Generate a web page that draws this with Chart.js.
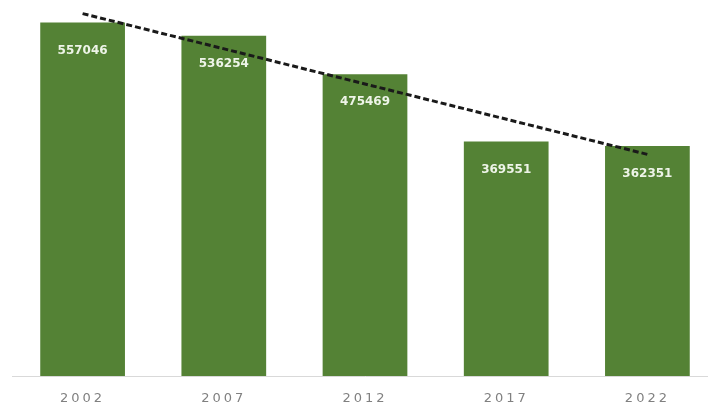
<!DOCTYPE html>
<html>
<head>
<meta charset="utf-8">
<script src="https://cdn.jsdelivr.net/npm/chart.js@4"></script>
<style>
  html, body { margin: 0; padding: 0; background: #fff; overflow: hidden; }
  #wrap { position: relative; width: 720px; height: 410px; }
</style>
</head>
<body>
<div id="wrap"><canvas id="grafico"></canvas></div>
<script>
// datos del grafico
var anios = ['2002', '2007', '2012', '2017', '2022'];
var valores = [557046, 536254, 475469, 369551, 362351];
// linea de tendencia (solo extremos)
var tendencia = [571200, null, null, null, 349300];

// etiquetas blancas dentro de las barras
var etiquetas = {
  id: 'etiquetas',
  afterDatasetsDraw: function (chart) {
    var ctx = chart.ctx;
    var meta = chart.getDatasetMeta(1);
    ctx.save();
    ctx.letterSpacing = '0px';
    ctx.font = 'bold 12px "DejaVu Sans"';
    ctx.fillStyle = '#eef4e8';
    ctx.textAlign = 'center';
    ctx.textBaseline = 'middle';
    meta.data.forEach(function (bar, i) {
      ctx.fillText(String(valores[i]), bar.x, bar.y + 28);
    });
    ctx.restore();
  }
};

// espaciado de letras en los años del eje
var espaciado = {
  id: 'espaciado',
  beforeDraw: function (chart) { chart.ctx.letterSpacing = '3px'; },
  beforeDatasetsDraw: function (chart) { chart.ctx.letterSpacing = '0px'; }
};

var canvas = document.getElementById('grafico');
new Chart(canvas, {
  data: {
    labels: anios,
    datasets: [
      {
        type: 'line',
        data: tendencia,
        spanGaps: true,
        borderColor: '#1a1a1a',
        borderWidth: 3,
        borderDash: [6, 3],
        pointRadius: 0,
        order: 0
      },
      {
        type: 'bar',
        data: valores,
        backgroundColor: '#548235',
        barPercentage: 0.6,
        categoryPercentage: 1,
        order: 1
      }
    ]
  },
  options: {
    responsive: true,
    maintainAspectRatio: false,
    animation: false,
    layout: { padding: { left: 12, right: 2, top: 8, bottom: 0 } },
    plugins: { legend: { display: false }, tooltip: { enabled: false } },
    scales: {
      x: {
        grid: { display: false },
        border: { display: true, color: '#d9d9d9', width: 1 },
        ticks: {
          color: '#808080',
          font: { family: 'DejaVu Sans', size: 13 },
          padding: 7,
          maxRotation: 0
        },
        afterFit: function (scale) { scale.height = 34; }
      },
      y: {
        display: false,
        min: 0,
        max: 580000
      }
    }
  },
  plugins: [etiquetas, espaciado]
});
</script>
</body>
</html>
